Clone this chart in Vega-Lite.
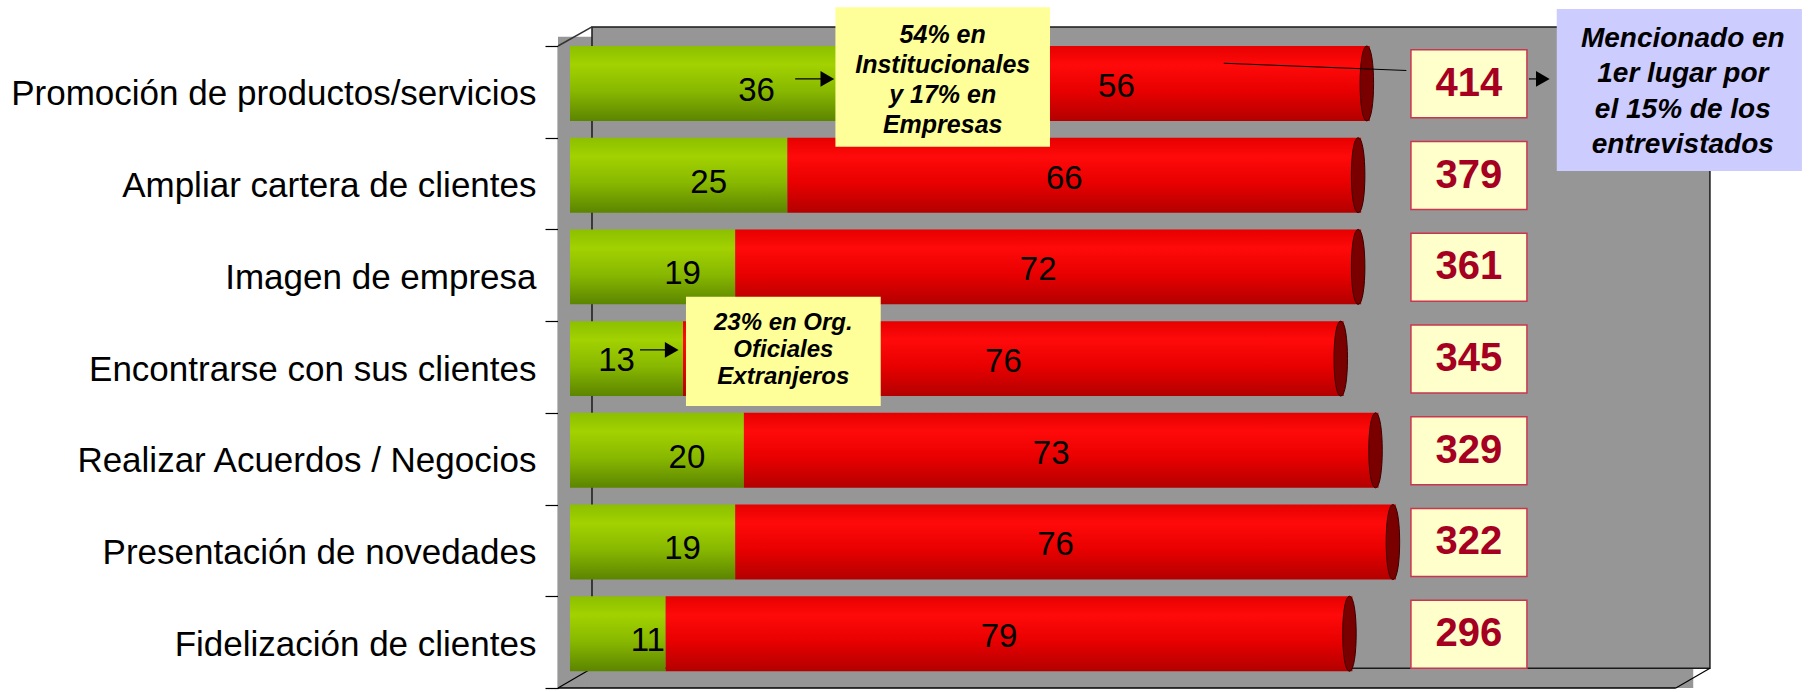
{
  "$schema": "https://vega.github.io/schema/vega-lite/v6.json",
  "width": 1250,
  "height": 642,
  "autosize": {"type": "none"},
  "padding": {"left": 558, "top": 46, "right": 1, "bottom": 4},
  "config": {"view": {"stroke": null}, "font": "Liberation Sans"},
  "resolve": {"scale": {"y": "independent"}},
  "layer": [
    {
      "data": {"values": [{}]},
      "layer": [
        {
          "mark": {"type": "rect", "fill": "#969696"},
          "encoding": {
            "x": {"datum": -1.38, "type": "quantitative", "scale": {"domain": [-1.38, 142.4], "nice": false, "zero": false}, "axis": null},
            "x2": {"datum": 129.2},
            "y": {"datum": 0, "type": "quantitative", "scale": {"domain": [0, 7], "nice": false, "zero": false}, "axis": null},
            "y2": {"datum": 0.215}
          }
        },
        {
          "mark": {"type": "rect", "fill": "#969696"},
          "encoding": {
            "x": {"datum": -1.38, "type": "quantitative", "scale": {"domain": [-1.38, 142.4], "nice": false, "zero": false}, "axis": null},
            "x2": {"datum": 2.53},
            "y": {"datum": 0, "type": "quantitative", "scale": {"domain": [0, 7], "nice": false, "zero": false}, "axis": null},
            "y2": {"datum": 7.1}
          }
        },
        {
          "mark": {"type": "rect", "fill": "#969696", "stroke": "#1a1a1a", "strokeWidth": 1.5},
          "encoding": {
            "x": {"datum": 2.53, "type": "quantitative", "scale": {"domain": [-1.38, 142.4], "nice": false, "zero": false}, "axis": null},
            "x2": {"datum": 131.12},
            "y": {"datum": 0.215, "type": "quantitative", "scale": {"domain": [0, 7], "nice": false, "zero": false}, "axis": null},
            "y2": {"datum": 7.208}
          }
        },
        {
          "mark": {"type": "rule", "color": "#333333", "strokeWidth": 1.5},
          "encoding": {
            "x": {"datum": -1.38, "type": "quantitative", "scale": {"domain": [-1.38, 142.4], "nice": false, "zero": false}, "axis": null},
            "x2": {"datum": 2.53},
            "y": {"datum": 7, "type": "quantitative", "scale": {"domain": [0, 7], "nice": false, "zero": false}, "axis": null},
            "y2": {"datum": 7.208}
          }
        },
        {
          "mark": {"type": "rule", "color": "#000000", "strokeWidth": 1.2},
          "encoding": {
            "x": {"datum": -1.38, "type": "quantitative", "scale": {"domain": [-1.38, 142.4], "nice": false, "zero": false}, "axis": null},
            "x2": {"datum": 2.53},
            "y": {"datum": 0, "type": "quantitative", "scale": {"domain": [0, 7], "nice": false, "zero": false}, "axis": null},
            "y2": {"datum": 0.215}
          }
        },
        {
          "mark": {"type": "rule", "color": "#000000", "strokeWidth": 1.5},
          "encoding": {
            "x": {"datum": -1.38, "type": "quantitative", "scale": {"domain": [-1.38, 142.4], "nice": false, "zero": false}, "axis": null},
            "x2": {"datum": 127.2},
            "y": {"datum": 0, "type": "quantitative", "scale": {"domain": [0, 7], "nice": false, "zero": false}, "axis": null},
            "y2": {"datum": 0}
          }
        },
        {
          "mark": {"type": "rule", "color": "#000000", "strokeWidth": 1.2},
          "encoding": {
            "x": {"datum": 127.2, "type": "quantitative", "scale": {"domain": [-1.38, 142.4], "nice": false, "zero": false}, "axis": null},
            "x2": {"datum": 131.12},
            "y": {"datum": 0, "type": "quantitative", "scale": {"domain": [0, 7], "nice": false, "zero": false}, "axis": null},
            "y2": {"datum": 0.215}
          }
        }
      ]
    },
    {
      "data": {
        "values": [
          {"cat": "Promoción de productos/servicios", "verde": 36, "rojo": 56, "total": 414},
          {"cat": "Ampliar cartera de clientes", "verde": 25, "rojo": 66, "total": 379},
          {"cat": "Imagen de empresa", "verde": 19, "rojo": 72, "total": 361},
          {"cat": "Encontrarse con sus clientes", "verde": 13, "rojo": 76, "total": 345},
          {"cat": "Realizar Acuerdos / Negocios", "verde": 20, "rojo": 73, "total": 329},
          {"cat": "Presentación de novedades", "verde": 19, "rojo": 76, "total": 322},
          {"cat": "Fidelización de clientes", "verde": 11, "rojo": 79, "total": 296}
        ]
      },
      "transform": [
        {"calculate": "datum.verde + datum.rojo", "as": "fin"},
        {"calculate": "datum.verde / 2", "as": "mv"},
        {"calculate": "datum.verde + datum.rojo / 2", "as": "mr"}
      ],
      "encoding": {
        "y": {
          "field": "cat",
          "type": "nominal",
          "sort": null,
          "scale": {"paddingInner": 0, "paddingOuter": 0},
          "axis": {
            "title": null,
            "domain": true,
            "domainColor": "#000000",
            "domainWidth": 1.5,
            "ticks": true,
            "tickBand": "extent",
            "tickSize": 13,
            "tickColor": "#000000",
            "tickWidth": 1.2,
            "labelFont": "Liberation Sans",
            "labelFontSize": 35,
            "labelColor": "#000000",
            "labelPadding": 9,
            "labelLimit": 0,
            "labelOffset": 2,
            "grid": false
          }
        }
      },
      "layer": [
        {
          "mark": {
            "type": "bar",
            "height": {"band": 0.817},
            "yOffset": -8.4,
            "color": {
              "gradient": "linear", "x1": 0, "y1": 0, "x2": 0, "y2": 1,
              "stops": [
                {"offset": 0, "color": "#8cbf00"},
                {"offset": 0.25, "color": "#a2d200"},
                {"offset": 0.6, "color": "#88b800"},
                {"offset": 1, "color": "#5c8500"}
              ]
            }
          },
          "encoding": {
            "x": {"field": "verde", "type": "quantitative", "scale": {"domain": [-1.38, 142.4], "nice": false, "zero": false}, "axis": null},
            "x2": {"datum": 0}
          }
        },
        {
          "mark": {
            "type": "bar",
            "height": {"band": 0.817},
            "yOffset": -8.4,
            "color": {
              "gradient": "linear", "x1": 0, "y1": 0, "x2": 0, "y2": 1,
              "stops": [
                {"offset": 0, "color": "#e60000"},
                {"offset": 0.25, "color": "#ff0a0a"},
                {"offset": 0.6, "color": "#e80000"},
                {"offset": 1, "color": "#b30000"}
              ]
            }
          },
          "encoding": {
            "x": {"field": "verde", "type": "quantitative", "scale": {"domain": [-1.38, 142.4], "nice": false, "zero": false}, "axis": null},
            "x2": {"field": "fin"}
          }
        },
        {
          "mark": {
            "type": "point",
            "shape": "M0,-1 C0.24,-1 0.24,1 0,1 C-0.24,1 -0.24,-1 0,-1 Z",
            "size": 5625,
            "filled": true,
            "fill": "#7a0000",
            "stroke": "#3a0000",
            "strokeWidth": 1,
            "opacity": 1,
            "yOffset": -8.4,
            "xOffset": -3
          },
          "encoding": {
            "x": {"field": "fin", "type": "quantitative", "scale": {"domain": [-1.38, 142.4], "nice": false, "zero": false}, "axis": null}
          }
        },
        {
          "transform": [{"filter": "datum.cat != 'Encontrarse con sus clientes'"}],
          "mark": {"type": "text", "fontSize": 33, "color": "#000000", "dx": 30, "yOffset": -1, "baseline": "middle", "align": "center"},
          "encoding": {
            "x": {"field": "mv", "type": "quantitative", "scale": {"domain": [-1.38, 142.4], "nice": false, "zero": false}, "axis": null},
            "text": {"field": "verde", "type": "quantitative"}
          }
        },
        {
          "transform": [{"filter": "datum.cat == 'Encontrarse con sus clientes'"}],
          "mark": {"type": "text", "fontSize": 33, "color": "#000000", "dx": -10, "yOffset": -6, "baseline": "middle", "align": "center"},
          "encoding": {
            "x": {"field": "mv", "type": "quantitative", "scale": {"domain": [-1.38, 142.4], "nice": false, "zero": false}, "axis": null},
            "text": {"field": "verde", "type": "quantitative"}
          }
        },
        {
          "mark": {"type": "text", "fontSize": 33, "color": "#000000", "dx": -10, "yOffset": -5, "baseline": "middle", "align": "center"},
          "encoding": {
            "x": {"field": "mr", "type": "quantitative", "scale": {"domain": [-1.38, 142.4], "nice": false, "zero": false}, "axis": null},
            "text": {"field": "rojo", "type": "quantitative"}
          }
        },
        {
          "mark": {
            "type": "point",
            "shape": "M-1,-0.586 L1,-0.586 L1,0.586 L-1,0.586 Z",
            "size": 13456,
            "filled": true,
            "fill": "#ffffcc",
            "stroke": "#c8374f",
            "strokeWidth": 1.5,
            "opacity": 1,
            "yOffset": -8
          },
          "encoding": {
            "x": {"datum": 103.4, "type": "quantitative", "scale": {"domain": [-1.38, 142.4], "nice": false, "zero": false}, "axis": null}
          }
        },
        {
          "mark": {"type": "text", "fontSize": 40, "fontWeight": "bold", "color": "#a50021", "yOffset": -8, "baseline": "middle", "align": "center"},
          "encoding": {
            "x": {"datum": 103.4, "type": "quantitative", "scale": {"domain": [-1.38, 142.4], "nice": false, "zero": false}, "axis": null},
            "text": {"field": "total", "type": "quantitative"}
          }
        }
      ]
    },
    {
      "data": {"values": [{}]},
      "layer": [
        {
          "mark": {"type": "rect", "fill": "#ffff99"},
          "encoding": {
            "x": {"datum": 30.53, "type": "quantitative", "scale": {"domain": [-1.38, 142.4], "nice": false, "zero": false}, "axis": null},
            "x2": {"datum": 55.21},
            "y": {"datum": 5.902, "type": "quantitative", "scale": {"domain": [0, 7], "nice": false, "zero": false}, "axis": null},
            "y2": {"datum": 7.422}
          }
        },
        {
          "mark": {"type": "text", "text": ["54% en", "Institucionales", "y 17% en", "Empresas"], "fontSize": 25, "fontWeight": "bold", "fontStyle": "italic", "lineHeight": 30, "baseline": "middle", "align": "center", "color": "#000000"},
          "encoding": {
            "x": {"datum": 42.87, "type": "quantitative", "scale": {"domain": [-1.38, 142.4], "nice": false, "zero": false}, "axis": null},
            "y": {"datum": 7.12, "type": "quantitative", "scale": {"domain": [0, 7], "nice": false, "zero": false}, "axis": null}
          }
        },
        {
          "mark": {"type": "rect", "fill": "#ffff99"},
          "encoding": {
            "x": {"datum": 13.34, "type": "quantitative", "scale": {"domain": [-1.38, 142.4], "nice": false, "zero": false}, "axis": null},
            "x2": {"datum": 35.74},
            "y": {"datum": 3.075, "type": "quantitative", "scale": {"domain": [0, 7], "nice": false, "zero": false}, "axis": null},
            "y2": {"datum": 4.267}
          }
        },
        {
          "mark": {"type": "text", "text": ["23% en Org.", "Oficiales", "Extranjeros"], "fontSize": 24, "fontWeight": "bold", "fontStyle": "italic", "lineHeight": 27, "baseline": "middle", "align": "center", "color": "#000000"},
          "encoding": {
            "x": {"datum": 24.54, "type": "quantitative", "scale": {"domain": [-1.38, 142.4], "nice": false, "zero": false}, "axis": null},
            "y": {"datum": 3.98, "type": "quantitative", "scale": {"domain": [0, 7], "nice": false, "zero": false}, "axis": null}
          }
        },
        {
          "mark": {"type": "rect", "fill": "#ccccff"},
          "encoding": {
            "x": {"datum": 113.5, "type": "quantitative", "scale": {"domain": [-1.38, 142.4], "nice": false, "zero": false}, "axis": null},
            "x2": {"datum": 141.7},
            "y": {"datum": 5.637, "type": "quantitative", "scale": {"domain": [0, 7], "nice": false, "zero": false}, "axis": null},
            "y2": {"datum": 7.404}
          }
        },
        {
          "mark": {"type": "text", "text": ["Mencionado en", "1er lugar por", "el 15% de los", "entrevistados"], "fontSize": 28, "fontWeight": "bold", "fontStyle": "italic", "lineHeight": 35.5, "baseline": "middle", "align": "center", "color": "#000000"},
          "encoding": {
            "x": {"datum": 128.0, "type": "quantitative", "scale": {"domain": [-1.38, 142.4], "nice": false, "zero": false}, "axis": null},
            "y": {"datum": 7.077, "type": "quantitative", "scale": {"domain": [0, 7], "nice": false, "zero": false}, "axis": null}
          }
        },
        {
          "mark": {"type": "rule", "color": "#000000", "strokeWidth": 1},
          "encoding": {
            "x": {"datum": 75.2, "type": "quantitative", "scale": {"domain": [-1.38, 142.4], "nice": false, "zero": false}, "axis": null},
            "x2": {"datum": 96.2},
            "y": {"datum": 6.812, "type": "quantitative", "scale": {"domain": [0, 7], "nice": false, "zero": false}, "axis": null},
            "y2": {"datum": 6.733}
          }
        },
        {
          "mark": {"type": "rule", "color": "#000000", "strokeWidth": 1.2},
          "encoding": {
            "x": {"datum": 25.9, "type": "quantitative", "scale": {"domain": [-1.38, 142.4], "nice": false, "zero": false}, "axis": null},
            "x2": {"datum": 29.6},
            "y": {"datum": 6.641, "type": "quantitative", "scale": {"domain": [0, 7], "nice": false, "zero": false}, "axis": null}
          }
        },
        {
          "mark": {"type": "point", "shape": "triangle-right", "size": 250, "filled": true, "color": "#000000", "opacity": 1},
          "encoding": {
            "x": {"datum": 29.6, "type": "quantitative", "scale": {"domain": [-1.38, 142.4], "nice": false, "zero": false}, "axis": null},
            "y": {"datum": 6.641, "type": "quantitative", "scale": {"domain": [0, 7], "nice": false, "zero": false}, "axis": null}
          }
        },
        {
          "mark": {"type": "rule", "color": "#000000", "strokeWidth": 1.2},
          "encoding": {
            "x": {"datum": 8.05, "type": "quantitative", "scale": {"domain": [-1.38, 142.4], "nice": false, "zero": false}, "axis": null},
            "x2": {"datum": 11.7},
            "y": {"datum": 3.686, "type": "quantitative", "scale": {"domain": [0, 7], "nice": false, "zero": false}, "axis": null}
          }
        },
        {
          "mark": {"type": "point", "shape": "triangle-right", "size": 250, "filled": true, "color": "#000000", "opacity": 1},
          "encoding": {
            "x": {"datum": 11.7, "type": "quantitative", "scale": {"domain": [-1.38, 142.4], "nice": false, "zero": false}, "axis": null},
            "y": {"datum": 3.686, "type": "quantitative", "scale": {"domain": [0, 7], "nice": false, "zero": false}, "axis": null}
          }
        },
        {
          "mark": {"type": "rule", "color": "#000000", "strokeWidth": 1.2},
          "encoding": {
            "x": {"datum": 110.3, "type": "quantitative", "scale": {"domain": [-1.38, 142.4], "nice": false, "zero": false}, "axis": null},
            "x2": {"datum": 111.9},
            "y": {"datum": 6.641, "type": "quantitative", "scale": {"domain": [0, 7], "nice": false, "zero": false}, "axis": null}
          }
        },
        {
          "mark": {"type": "point", "shape": "triangle-right", "size": 250, "filled": true, "color": "#000000", "opacity": 1},
          "encoding": {
            "x": {"datum": 111.9, "type": "quantitative", "scale": {"domain": [-1.38, 142.4], "nice": false, "zero": false}, "axis": null},
            "y": {"datum": 6.641, "type": "quantitative", "scale": {"domain": [0, 7], "nice": false, "zero": false}, "axis": null}
          }
        }
      ]
    }
  ]
}
